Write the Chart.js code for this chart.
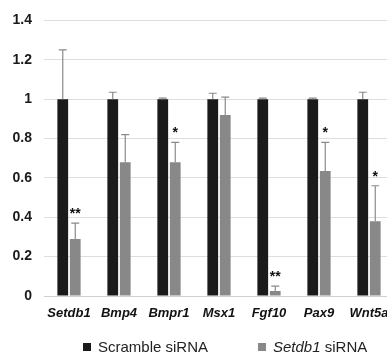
<!DOCTYPE html>
<html>
<head>
<meta charset="utf-8">
<script src="https://cdn.jsdelivr.net/npm/chart.js@4"></script>
<style>
  html, body { margin: 0; padding: 0; background: #fff; overflow: hidden; }
  #wrap { position: relative; width: 400px; height: 360px; }
  .legend { position: absolute; top: 338px; font-family: 'Liberation Sans', Arial, sans-serif; font-size: 15px; color: #222; white-space: nowrap; }
  .legend span.box { display: inline-block; width: 8px; height: 8px; margin-right: 7px; vertical-align: 1px; }
</style>
</head>
<body>
<div id="wrap">
  <canvas id="chart" width="400" height="360"></canvas>
  <div class="legend" style="left:83px"><span class="box" style="background:#1a1a1a"></span>Scramble siRNA</div>
  <div class="legend" style="left:258px"><span class="box" style="background:#888"></span><i>Setdb1</i> siRNA</div>
</div>
<script>
const genes = ['Setdb1', 'Bmp4', 'Bmpr1', 'Msx1', 'Fgf10', 'Pax9', 'Wnt5a'];
const scramble = [1, 1, 1, 1, 1, 1, 1];
const scrambleErr = [0.25, 0.035, 0.005, 0.03, 0.005, 0.005, 0.035];
const knockdown = [0.29, 0.68, 0.68, 0.92, 0.025, 0.635, 0.38];
const knockdownErr = [0.08, 0.14, 0.10, 0.09, 0.025, 0.145, 0.18];
const stars = ['**', '', '*', '', '**', '*', '*'];
const yTicks = [0, 0.2, 0.4, 0.6, 0.8, 1, 1.2, 1.4];

const errorBars = {
    id: 'errorBars',
    afterDatasetsDraw(chart) {
        const ctx = chart.ctx;
        const y = chart.scales.y;
        const errs = [scrambleErr, knockdownErr];
        ctx.save();
        ctx.strokeStyle = '#8a8a8a';
        ctx.lineWidth = 1.2;
        chart.data.datasets.forEach((ds, di) => {
            chart.getDatasetMeta(di).data.forEach((bar, i) => {
                const top = y.getPixelForValue(ds.data[i] + errs[di][i]);
                const x = bar.x;
                ctx.beginPath();
                ctx.moveTo(x, bar.y);
                ctx.lineTo(x, top);
                ctx.moveTo(x - 4, top);
                ctx.lineTo(x + 4, top);
                ctx.stroke();
                if (di === 1 && stars[i]) {
                    ctx.fillStyle = '#111';
                    ctx.font = 'bold 14px "Liberation Sans", Arial, sans-serif';
                    ctx.textAlign = 'center';
                    ctx.fillText(stars[i], x, top - 5);
                }
            });
        });
        ctx.restore();
    }
};

new Chart(document.getElementById('chart'), {
    type: 'bar',
    data: {
        labels: genes,
        datasets: [
            { label: 'Scramble siRNA', data: scramble, backgroundColor: '#1a1a1a' },
            { label: 'Setdb1 siRNA', data: knockdown, backgroundColor: '#888888' }
        ]
    },
    options: {
        responsive: false,
        animation: false,
        categoryPercentage: 0.5,
        barPercentage: 0.86,
        layout: { padding: { top: 20, bottom: 34, left: 0, right: 6 } },
        plugins: { legend: { display: false }, tooltip: { enabled: false } },
        scales: {
            x: {
                grid: { display: false, drawTicks: false },
                border: { color: '#cfcfcf' },
                ticks: {
                    color: '#111',
                    padding: 10,
                    maxRotation: 0,
                    autoSkip: false,
                    font: { family: 'Liberation Sans', size: 13, weight: 'bold', style: 'italic' }
                },
                afterFit(s) { s.height = 30; }
            },
            y: {
                min: 0,
                max: 1.4,
                afterBuildTicks(s) { s.ticks = yTicks.map(v => ({ value: v })); },
                grid: { color: '#dedede', drawTicks: false },
                border: { display: false },
                ticks: {
                    color: '#1a1a1a',
                    padding: 12,
                    callback: v => String(Math.round(v * 10) / 10),
                    font: { family: 'Liberation Sans', size: 14, weight: 'bold' }
                },
                afterFit(s) { s.width = 44; }
            }
        }
    },
    plugins: [errorBars]
});
</script>
</body>
</html>
